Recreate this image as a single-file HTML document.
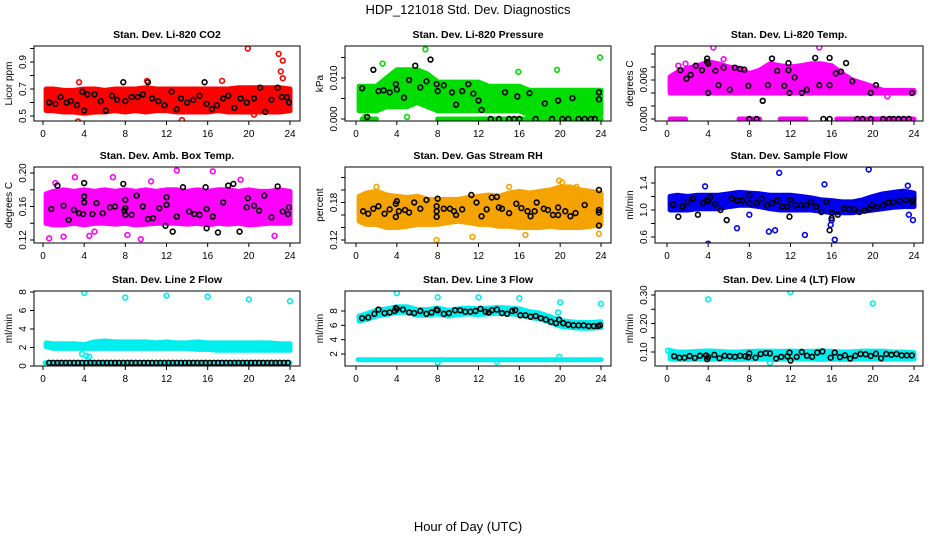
<!DOCTYPE html>
<html><head><meta charset="utf-8">
<style>
html,body{margin:0;padding:0;background:#fff;}
svg{display:block;font-family:"Liberation Sans",Arial,sans-serif;}
</style></head>
<body>
<svg id="chart" width="936" height="540" viewBox="0 0 936 540" xmlns="http://www.w3.org/2000/svg">
<text x="468" y="14" text-anchor="middle" font-size="13">HDP_121018  Std. Dev. Diagnostics</text>
<text x="468" y="531" text-anchor="middle" font-size="13">Hour of Day (UTC)</text>
</svg>
<script>
// ---- data (hour of day, value) ----
const xTicks = [0,4,8,12,16,20,24];
const bandHours = [0,1,2,3,4,5,6,7,8,9,10,11,12,13,14,15,16,17,18,19,20,21,22,23,24];

// Panel 1: CO2
const co2Lo = [0.54,0.54,0.53,0.53,0.52,0.53,0.53,0.54,0.53,0.54,0.53,0.54,0.54,0.53,0.53,0.53,0.53,0.54,0.53,0.53,0.53,0.53,0.53,0.53,0.54];
const co2Hi = [0.70,0.70,0.69,0.69,0.70,0.70,0.69,0.70,0.70,0.70,0.71,0.70,0.70,0.70,0.70,0.70,0.70,0.70,0.70,0.71,0.71,0.71,0.71,0.71,0.70];
const co2Out = [[3.4,0.46],[3.9,0.53],[19.9,1.0],[22.9,0.96],[23.3,0.91],[23.1,0.83],[23.3,0.78],[10.1,0.76],[3.5,0.75],[17.4,0.76],[13.5,0.47],[20.5,0.51]];
const co2Blk = [[0.6,0.6],[1.2,0.59],[1.7,0.64],[2.3,0.6],[2.7,0.61],[3.3,0.58],[3.8,0.68],[4.0,0.54],[4.3,0.66],[5.0,0.66],[5.6,0.61],[6.1,0.54],[6.7,0.65],[7.2,0.62],[7.8,0.75],[8.0,0.61],[8.6,0.64],[9.2,0.64],[9.7,0.66],[10.2,0.75],[10.6,0.63],[11.2,0.61],[11.8,0.58],[12.5,0.68],[13.0,0.55],[13.4,0.63],[14.0,0.6],[14.6,0.62],[15.2,0.65],[15.7,0.75],[15.9,0.59],[16.4,0.55],[16.9,0.58],[17.5,0.63],[18.0,0.65],[18.6,0.56],[19.2,0.63],[19.8,0.6],[20.5,0.63],[21.1,0.71],[21.6,0.53],[22.2,0.62],[22.8,0.71],[23.2,0.64],[23.7,0.64],[23.9,0.6]];

// Panel 2: Pressure
const prLo = [0.002,0.002,0.002,0.003,0.003,0.003,0.004,0.003,0.002,0.002,0.002,0.002,0.002,0.002,0.002,0.002,0.002,0.001,0.001,0.001,0.001,0.001,0.001,0.001,0.001];
const prHi = [0.008,0.008,0.008,0.010,0.012,0.012,0.012,0.011,0.009,0.009,0.009,0.009,0.009,0.008,0.008,0.008,0.008,0.007,0.007,0.007,0.007,0.007,0.007,0.007,0.007];
const prZeroFrom = [[0.6,2.0],[8.0,24.0]];
const prOut = [[6.8,0.017],[15.9,0.0115],[19.7,0.012],[23.9,0.015],[5.0,0.0005],[2.6,0.0135],[0.9,0.0005]];
const prBlk = [[0.6,0.0075],[1.1,0.0005],[1.7,0.012],[2.2,0.0068],[2.7,0.007],[3.3,0.0065],[3.9,0.0085],[4.0,0.0072],[4.7,0.0052],[5.2,0.0095],[5.8,0.013],[6.3,0.0077],[6.9,0.0092],[7.3,0.0145],[7.9,0.0085],[8.0,0.0068],[8.6,0.0082],[9.4,0.0065],[9.8,0.0035],[10.4,0.0068],[11.0,0.0085],[11.5,0.0062],[12.0,0.0045],[12.3,0.0022],[13.2,0],[14.0,0],[14.6,0.0065],[15.0,0],[15.5,0],[15.8,0.0055],[16.0,0],[17.0,0.0063],[17.6,0],[18.5,0.0038],[19.2,0],[19.8,0.0045],[20.2,0],[20.8,0],[21.2,0.0051],[21.8,0],[22.4,0],[23.0,0],[23.4,0],[23.8,0.0065],[23.8,0.0048]];

// Panel 3: Li-820 Temp
const tpLo = [0.004,0.004,0.004,0.004,0.004,0.004,0.004,0.004,0.004,0.004,0.004,0.004,0.004,0.004,0.004,0.004,0.004,0.004,0.004,0.004,0.004,0.004,0.004,0.004,0.004];
const tpHi = [0.0065,0.0072,0.0078,0.0082,0.0088,0.0085,0.0080,0.0078,0.0070,0.0075,0.0085,0.0082,0.0080,0.0082,0.0085,0.0085,0.0082,0.0070,0.0060,0.0055,0.0050,0.0044,0.0044,0.0044,0.0044];
const tpZero = [[0.3,1.8],[7.0,9.0],[11.0,13.5],[16.5,24.0]];
const tpOut = [[4.5,0.011],[14.8,0.011],[21.4,0.0035],[1.1,0.0082],[1.8,0.0085],[5.5,0.0092]];
const tpBlk = [[1.3,0.0075],[1.9,0.0062],[2.3,0.0068],[2.8,0.0082],[3.4,0.0075],[3.9,0.0093],[3.9,0.0088],[4.0,0.004],[4.0,0.0085],[4.7,0.0074],[5.0,0.0052],[5.5,0.0079],[6.1,0.0045],[6.6,0.0079],[7.1,0.0077],[7.5,0.0076],[7.9,0.0051],[8.0,0],[8.7,0],[9.3,0.0028],[9.8,0.0052],[10.2,0.0093],[10.7,0.0074],[11.4,0.0051],[11.8,0.0075],[11.9,0.004],[11.8,0.0086],[12.4,0.0064],[13.1,0.004],[13.6,0.0045],[14.4,0.0094],[14.8,0.0052],[15.2,0],[15.8,0.0052],[15.8,0.0094],[15.8,0],[16.4,0.007],[16.9,0.0073],[17.4,0.0086],[18.0,0.0058],[18.5,0],[19.0,0],[19.8,0],[19.8,0.004],[20.3,0.0052],[21.0,0],[21.6,0],[22.0,0],[22.5,0],[23.0,0],[23.5,0],[23.8,0.004]];

// Panel 4: Amb. Box Temp
const abLo = [0.140,0.138,0.138,0.140,0.138,0.140,0.140,0.139,0.140,0.138,0.139,0.140,0.140,0.140,0.139,0.140,0.138,0.140,0.139,0.140,0.138,0.139,0.140,0.140,0.140];
const abHi = [0.175,0.178,0.180,0.178,0.180,0.178,0.180,0.178,0.180,0.178,0.180,0.178,0.180,0.180,0.178,0.180,0.178,0.180,0.180,0.178,0.180,0.178,0.178,0.180,0.178];
const abOut = [[0.6,0.122],[1.2,0.188],[3.1,0.195],[5.0,0.130],[6.8,0.195],[9.5,0.121],[10.5,0.190],[13.0,0.203],[16.5,0.202],[22.5,0.125],[4.5,0.125],[8.2,0.126],[19.2,0.192],[2.0,0.124]];
const abBlk = [[0.8,0.157],[1.4,0.185],[2.0,0.161],[2.5,0.144],[3.0,0.156],[3.5,0.152],[3.9,0.151],[4.0,0.188],[4.0,0.172],[4.0,0.165],[4.8,0.151],[5.2,0.164],[5.8,0.152],[6.5,0.159],[7.0,0.160],[7.8,0.187],[7.9,0.155],[8.0,0.158],[8.0,0.168],[8.0,0.150],[8.6,0.150],[9.1,0.173],[9.7,0.160],[10.2,0.145],[10.7,0.146],[11.3,0.158],[11.9,0.137],[12.0,0.162],[12.0,0.171],[12.6,0.130],[13.0,0.148],[13.6,0.183],[14.2,0.154],[14.7,0.151],[15.2,0.150],[15.8,0.183],[15.9,0.157],[15.9,0.134],[16.5,0.148],[17.0,0.129],[17.5,0.165],[18.0,0.185],[18.5,0.187],[19.1,0.130],[19.8,0.159],[19.9,0.170],[20.5,0.161],[21.0,0.155],[21.5,0.173],[22.2,0.147],[22.8,0.184],[23.3,0.154],[23.8,0.151],[23.9,0.159]];

// Panel 5: Gas Stream RH
const rhLo = [0.150,0.145,0.145,0.140,0.140,0.142,0.145,0.145,0.145,0.148,0.150,0.148,0.145,0.145,0.142,0.142,0.140,0.140,0.140,0.142,0.140,0.140,0.140,0.142,0.145];
const rhHi = [0.190,0.195,0.198,0.192,0.190,0.188,0.190,0.185,0.185,0.185,0.185,0.188,0.190,0.192,0.190,0.195,0.198,0.195,0.198,0.200,0.205,0.205,0.200,0.198,0.195];
const rhOut = [[7.9,0.120],[11.4,0.125],[16.6,0.128],[19.9,0.215],[20.2,0.212],[21.6,0.205],[23.8,0.130],[2.0,0.205],[15.0,0.205]];
const rhBlk = [[0.7,0.166],[1.2,0.162],[1.7,0.170],[2.2,0.174],[2.8,0.162],[3.3,0.169],[3.9,0.178],[3.9,0.157],[4.0,0.182],[4.2,0.166],[4.8,0.168],[5.2,0.164],[5.7,0.180],[6.3,0.170],[6.9,0.184],[7.9,0.174],[7.9,0.166],[7.9,0.157],[8.0,0.186],[8.6,0.170],[9.2,0.170],[9.6,0.166],[9.8,0.160],[10.4,0.169],[11.3,0.192],[11.8,0.180],[12.3,0.158],[12.8,0.169],[13.3,0.188],[13.8,0.189],[14.0,0.172],[14.3,0.170],[15.0,0.163],[15.7,0.178],[16.2,0.171],[16.8,0.166],[17.1,0.158],[17.5,0.166],[17.7,0.180],[18.4,0.170],[18.8,0.168],[19.3,0.160],[19.8,0.172],[19.8,0.160],[20.5,0.166],[21.0,0.158],[21.5,0.163],[22.4,0.176],[23.8,0.200],[23.8,0.168],[23.8,0.164],[23.8,0.143]];

// Panel 6: Sample Flow
const sfLo = [1.00,1.00,1.00,1.02,1.02,1.02,1.05,1.07,1.07,1.05,1.02,1.00,1.00,1.00,1.00,0.98,0.96,0.96,0.96,0.98,1.00,1.02,1.04,1.05,1.05];
const sfHi = [1.20,1.22,1.20,1.22,1.22,1.22,1.24,1.26,1.25,1.24,1.22,1.22,1.22,1.20,1.18,1.15,1.14,1.12,1.12,1.15,1.20,1.24,1.26,1.28,1.25];
const sfOut = [[4.0,0.5],[10.9,1.55],[19.6,1.6],[15.3,1.38],[9.9,0.68],[10.5,0.7],[13.4,0.63],[15.9,0.78],[16.0,0.85],[16.3,0.56],[23.5,0.93],[23.9,0.85],[8.0,0.93],[6.8,0.73],[3.7,1.35],[23.4,1.36]];
const sfBlk = [[0.6,1.08],[1.1,0.90],[1.5,1.05],[2.0,1.12],[2.5,1.17],[3.0,0.93],[3.5,1.10],[3.9,1.15],[4.0,1.13],[4.2,1.19],[4.7,1.09],[5.2,1.00],[5.8,0.85],[6.3,1.17],[6.8,1.14],[7.3,1.14],[8.0,1.22],[8.0,1.10],[8.7,1.10],[9.2,1.16],[9.7,1.07],[10.2,1.10],[10.7,1.14],[11.2,1.05],[11.7,1.05],[11.9,0.90],[12.0,1.15],[12.5,1.07],[13.0,1.07],[13.5,1.07],[14.0,1.12],[14.5,1.05],[15.0,0.97],[15.5,1.12],[15.8,0.70],[16.0,0.96],[16.0,0.88],[16.6,0.93],[17.2,1.02],[17.7,1.01],[18.2,1.01],[18.7,0.97],[19.2,0.99],[19.7,1.02],[19.9,1.07],[20.4,1.04],[21.0,1.07],[21.5,1.11],[22.0,1.12],[22.6,1.13],[23.2,1.15],[23.8,1.12],[23.9,1.15]];

// Panel 7: Line 2 Flow
const l2Lo = [2.1,1.9,1.9,1.9,1.9,1.9,1.9,1.9,1.9,1.9,1.9,1.9,1.9,1.9,1.9,1.8,1.8,1.7,1.7,1.7,1.7,1.7,1.7,1.7,1.7];
const l2Hi = [2.5,2.4,2.4,2.4,2.3,2.6,2.7,2.6,2.6,2.6,2.6,2.5,2.6,2.5,2.5,2.6,2.5,2.5,2.5,2.5,2.5,2.5,2.5,2.4,2.4];
const l2Base = [[0.2,24.0,0.35]];
const l2Out = [[4.0,7.9],[8.0,7.4],[12.0,7.6],[16.0,7.5],[20.0,7.2],[24.0,7.0],[3.8,1.3],[4.2,1.1],[4.5,1.0],[4.0,2.1]];
const l2BlkX = [0.6,1.0,1.4,1.8,2.2,2.6,3.0,3.4,3.8,4.2,4.6,5.0,5.4,5.8,6.2,6.6,7.0,7.4,7.8,8.2,8.6,9.0,9.4,9.8,10.2,10.6,11.0,11.4,11.8,12.2,12.6,13.0,13.4,13.8,14.2,14.6,15.0,15.4,15.8,16.2,16.6,17.0,17.4,17.8,18.2,18.6,19.0,19.4,19.8,20.2,20.6,21.0,21.4,21.8,22.2,22.6,23.0,23.4,23.8];
const l2BlkY = 0.35;

// Panel 8: Line 3 Flow
const l3Lo = [6.6,6.8,7.3,7.5,7.8,7.8,7.4,7.4,7.6,7.3,7.5,7.6,7.5,7.6,7.7,7.6,7.5,7.1,6.9,6.4,5.9,5.7,5.6,5.6,5.7];
const l3Hi = [7.3,7.6,8.1,8.3,8.6,8.6,8.2,8.2,8.4,8.1,8.3,8.4,8.3,8.4,8.5,8.4,8.3,7.9,7.7,7.2,6.7,6.5,6.4,6.4,6.5];
const l3Base = [[0.2,24.0,1.2]];
const l3Out = [[4.0,10.5],[8.0,9.9],[12.0,9.9],[16.0,9.8],[20.0,9.2],[24.0,9.0],[19.8,7.8],[19.9,1.6],[8.0,0.8],[13.8,0.9]];
const l3Blk = [[0.6,7.0],[1.2,7.1],[1.8,7.6],[2.2,8.2],[2.8,7.7],[3.3,7.8],[3.8,8.0],[3.9,8.4],[4.0,8.3],[4.6,8.2],[5.2,7.8],[5.7,7.7],[6.3,8.0],[6.9,7.6],[7.4,7.8],[7.9,8.2],[8.0,8.1],[8.6,7.6],[9.1,7.7],[9.7,8.1],[10.2,8.1],[10.7,7.9],[11.2,7.9],[11.7,8.0],[12.2,8.3],[12.7,7.9],[13.0,7.8],[13.3,8.1],[13.8,8.2],[14.3,7.7],[14.8,7.6],[15.3,8.0],[15.6,8.1],[16.1,7.4],[16.6,7.4],[17.1,7.2],[17.6,7.3],[18.1,7.0],[18.6,6.8],[19.1,6.5],[19.6,6.3],[19.9,6.8],[20.3,6.3],[20.8,6.1],[21.3,6.0],[21.8,6.0],[22.3,6.0],[22.8,5.9],[23.3,5.9],[23.7,5.9],[23.9,6.0]];

// Panel 9: Line 4 (LT) Flow
const l4Lo = [0.075,0.074,0.074,0.075,0.074,0.075,0.075,0.074,0.075,0.075,0.074,0.075,0.075,0.075,0.075,0.074,0.075,0.074,0.075,0.075,0.075,0.074,0.075,0.075,0.075];
const l4Hi = [0.105,0.100,0.100,0.102,0.104,0.102,0.100,0.100,0.102,0.103,0.103,0.102,0.103,0.102,0.102,0.104,0.102,0.100,0.101,0.103,0.103,0.103,0.100,0.100,0.098];
const l4Out = [[4.0,0.285],[12.0,0.31],[20.0,0.27],[10.0,0.062],[0.1,0.105]];
const l4Blk = [[0.7,0.085],[1.2,0.080],[1.7,0.080],[2.2,0.086],[2.7,0.079],[3.2,0.087],[3.8,0.088],[3.9,0.075],[4.0,0.082],[4.6,0.090],[5.1,0.078],[5.6,0.087],[6.1,0.085],[6.6,0.083],[7.1,0.087],[7.6,0.085],[7.9,0.082],[8.0,0.095],[8.6,0.080],[9.1,0.093],[9.6,0.096],[10.0,0.095],[10.6,0.077],[11.1,0.083],[11.7,0.085],[11.9,0.098],[12.0,0.070],[12.6,0.083],[13.1,0.100],[13.6,0.087],[14.1,0.083],[14.6,0.098],[15.1,0.102],[15.9,0.080],[16.3,0.098],[16.8,0.082],[17.3,0.088],[17.8,0.077],[18.3,0.087],[18.8,0.093],[19.3,0.092],[19.8,0.086],[20.3,0.094],[20.8,0.078],[21.3,0.093],[21.8,0.090],[22.3,0.093],[22.8,0.088],[23.3,0.088],[23.8,0.088]];

// ---- panels ----
const NS = "http://www.w3.org/2000/svg";
const svg = document.getElementById('chart');
function el(tag, attrs, parent){ const e=document.createElementNS(NS,tag); for(const k in attrs) e.setAttribute(k,attrs[k]); (parent||svg).appendChild(e); return e; }

const cols = [{x0:34,x1:300,h0:43,h24:290},{x0:345,x1:611,h0:356,h24:601},{x0:655,x1:923,h0:667,h24:914}];
const rows = [{y0:46,y1:121},{y0:167,y1:243},{y0:291,y1:366}];

const panels = [
 {key:'co2',title:'Stan. Dev. Li-820 CO2',ylab:'Licor ppm',c:0,r:0,col:'#ff0000',ya:[0.5,116],yb:[0.9,62],ticks:[0.5,0.6,0.7,0.8,0.9,1.0],labels:['0.5','0.7','0.9'],lo:co2Lo,hi:co2Hi,out:co2Out,blk:co2Blk},
 {key:'pressure',title:'Stan. Dev. Li-820 Pressure',ylab:'kPa',c:1,r:0,col:'#00dd00',ya:[0,119],yb:[0.010,78],ticks:[0,0.005,0.010,0.015],labels:['0.000','0.010'],lo:prLo,hi:prHi,zero:prZeroFrom,out:prOut,blk:prBlk},
 {key:'li820-temp',title:'Stan. Dev. Li-820 Temp.',ylab:'degrees C',c:2,r:0,col:'#ff00ff',ya:[0,119],yb:[0.006,80],ticks:[0,0.002,0.004,0.006,0.008,0.010],labels:['0.000','0.006'],lo:tpLo,hi:tpHi,zero:tpZero,out:tpOut,blk:tpBlk},
 {key:'amb-box-temp',title:'Stan. Dev. Amb. Box Temp.',ylab:'degrees C',c:0,r:1,col:'#ff00ff',ya:[0.12,240],yb:[0.20,173],ticks:[0.12,0.14,0.16,0.18,0.20],labels:['0.12','0.16','0.20'],lo:abLo,hi:abHi,out:abOut,blk:abBlk},
 {key:'gas-stream-rh',title:'Stan. Dev. Gas Stream RH',ylab:'percent',c:1,r:1,col:'#f5a300',ya:[0.12,240],yb:[0.18,202.5],ticks:[0.12,0.14,0.16,0.18,0.20,0.22],labels:['0.12','0.18'],lo:rhLo,hi:rhHi,out:rhOut,blk:rhBlk},
 {key:'sample-flow',title:'Stan. Dev. Sample Flow',ylab:'ml/min',c:2,r:1,col:'#0000ee',ya:[0.6,237],yb:[1.4,183],ticks:[0.6,0.8,1.0,1.2,1.4],labels:['0.6','1.0','1.4'],lo:sfLo,hi:sfHi,out:sfOut,blk:sfBlk},
 {key:'line2-flow',title:'Stan. Dev. Line 2 Flow',ylab:'ml/min',c:0,r:2,col:'#00eeee',ya:[0,366],yb:[8,292],ticks:[0,2,4,6,8],labels:['0','2','4','6','8'],lo:l2Lo,hi:l2Hi,base:l2Base,out:l2Out,blk:l2BlkX.map(x=>[x,l2BlkY])},
 {key:'line3-flow',title:'Stan. Dev. Line 3 Flow',ylab:'ml/min',c:1,r:2,col:'#00eeee',ya:[2,354],yb:[8,311],ticks:[2,4,6,8],labels:['2','4','6','8'],lo:l3Lo,hi:l3Hi,base:l3Base,out:l3Out,blk:l3Blk},
 {key:'line4-flow',title:'Stan. Dev. Line 4 (LT) Flow',ylab:'ml/min',c:2,r:2,col:'#00eeee',ya:[0.10,352],yb:[0.30,295],ticks:[0.10,0.15,0.20,0.25,0.30],labels:['0.10','0.20','0.30'],lo:l4Lo,hi:l4Hi,out:l4Out,blk:l4Blk}
];

function fmt(v,labels){ for(const l of labels){ if(Math.abs(parseFloat(l)-v)<1e-9) return l; } return null; }

panels.forEach(p=>{
  const C=cols[p.c], R=rows[p.r];
  const xs = h => C.h0 + (C.h24-C.h0)*h/24;
  const ys = v => p.ya[1] + (p.yb[1]-p.ya[1])*(v-p.ya[0])/(p.yb[0]-p.ya[0]);
  const g = el('g',{});
  
  
  const t = el('text',{x:(C.x0+C.x1)/2,y:R.y0-8,'text-anchor':'middle','font-size':'10.5','font-weight':'bold'},g);
  t.textContent=p.title;
  
  
  const clip = el('clipPath',{id:'clip-'+p.key},g);
  el('rect',{x:C.x0,y:R.y0,width:C.x1-C.x0,height:R.y1-R.y0},clip);
  const plot = el('g',{'clip-path':'url(#clip-'+p.key+')'},g);
  
  
  // band
  let d='';
  bandHours.forEach((h,i)=>{ d+=(i?'L':'M')+xs(Math.max(h,0.3)).toFixed(1)+','+ys(p.hi[i]).toFixed(1); });
  for(let i=bandHours.length-1;i>=0;i--){ d+='L'+xs(Math.max(bandHours[i],0.3)).toFixed(1)+','+ys(p.lo[i]).toFixed(1); }
  const band = el('path',{d:d+'Z',fill:p.col,stroke:p.col,'stroke-width':5,'stroke-linejoin':'round'},plot);
  
  
  (p.zero||[]).forEach(z=>{
    const ln = el('line',{x1:xs(z[0]),x2:xs(z[1]),y1:ys(0),y2:ys(0),stroke:p.col,'stroke-width':5,'stroke-linecap':'round'},plot);
    
    
  });
  (p.base||[]).forEach(z=>{
    const ln = el('line',{x1:xs(z[0]),x2:xs(z[1]),y1:ys(z[2]),y2:ys(z[2]),stroke:p.col,'stroke-width':5,'stroke-linecap':'round'},plot);
    
    
  });
  p.out.forEach(pt=>{
    const c = el('circle',{cx:xs(pt[0]),cy:ys(pt[1]),r:2.4,fill:'none',stroke:p.col,'stroke-width':1.6},plot);
    
    
  });
  p.blk.forEach(pt=>{
    const c = el('circle',{cx:xs(pt[0]),cy:ys(pt[1]),r:2.4,fill:'none',stroke:'#000','stroke-width':1.6},plot);
    
    
  });
  // box
  const box = el('rect',{x:C.x0,y:R.y0,width:C.x1-C.x0,height:R.y1-R.y0,fill:'none',stroke:'#000','stroke-width':1},g);
  
  
  // x axis
  const xa = el('g',{},g);
  
  
  el('line',{x1:xs(0),x2:xs(24),y1:R.y1,y2:R.y1,stroke:'#000'},xa);
  xTicks.forEach(h=>{
    el('line',{x1:xs(h),x2:xs(h),y1:R.y1,y2:R.y1+4,stroke:'#000'},xa);
    const tl = el('text',{x:xs(h),y:R.y1+16,'text-anchor':'middle','font-size':'10'},xa);
    tl.textContent=h;
  });
  // y axis
  const ya = el('g',{},g);
  
  
  const tvs = p.ticks.filter(v=>ys(v)>=R.y0-1 && ys(v)<=R.y1+1);
  el('line',{x1:C.x0,x2:C.x0,y1:ys(tvs[0]),y2:ys(tvs[tvs.length-1]),stroke:'#000'},ya);
  tvs.forEach(v=>{
    el('line',{x1:C.x0-4,x2:C.x0,y1:ys(v),y2:ys(v),stroke:'#000'},ya);
    const lab = fmt(v,p.labels);
    if(lab!==null){
      const tl = el('text',{x:C.x0-8,y:ys(v),'text-anchor':'middle','font-size':'10',transform:'rotate(-90 '+(C.x0-8)+' '+ys(v)+')'},ya);
      tl.textContent=lab;
    }
  });
  const yt = el('text',{x:C.x0-22,y:(R.y0+R.y1)/2,'text-anchor':'middle','font-size':'10',transform:'rotate(-90 '+(C.x0-22)+' '+((R.y0+R.y1)/2)+')'},g);
  yt.textContent=p.ylab;
  
  
});
</script>
</body></html>
